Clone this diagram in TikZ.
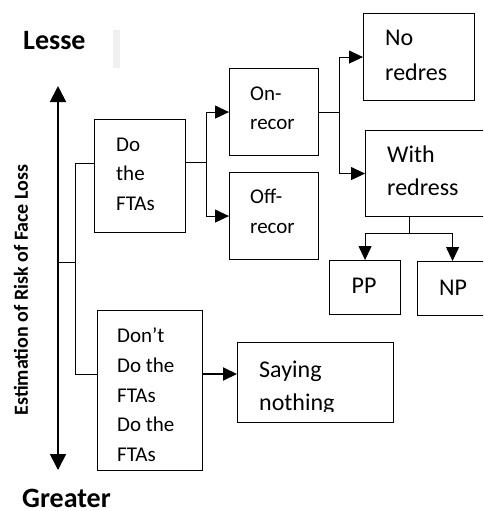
\documentclass[tikz,border=0pt]{standalone}
\usepackage{fontspec}
\setmainfont{Carlito}
\usetikzlibrary{arrows.meta}
\begin{document}
\begin{tikzpicture}[x=1pt,y=-1pt,
  box/.style={draw, line width=1.1pt, rectangle, anchor=north west, inner sep=0pt},
  txt/.style={anchor=base west, inner sep=0pt, font=\fontsize{21}{25}\selectfont},
  btxt/.style={anchor=base west, inner sep=0pt, font=\fontsize{24}{28}\selectfont},
  ctxt/.style={anchor=base, inner sep=0pt, font=\fontsize{24}{28}\selectfont},
  big/.style={anchor=base west, inner sep=0pt, font=\bfseries\fontsize{28}{30}\selectfont},
  conn/.style={draw, line width=1pt},
  arr/.style={conn, -{Triangle[length=14pt,width=13pt]}},
  thickarr/.style={draw, line width=2pt, -{Triangle[length=14pt,width=13pt]}},
  axis/.style={draw, line width=1.8pt, {Triangle[length=16pt,width=16pt]}-{Triangle[length=16pt,width=16pt]}}
]
\useasboundingbox (0,0) rectangle (483,511);
\clip (0,0) rectangle (483,511);
\fill[white] (0,0) rectangle (483,511);

% labels
\node[big] (lesse) at (23,50) {Lesse};
\fill[black!6] (113,30) rectangle (120,68);
\node[big] (greater) at (22,507) {Greater};
\node[rotate=90, inner sep=0pt, font=\bfseries\fontsize{20}{22}\selectfont] (lab) at (21,290) {Estimation of Risk of Face Loss};

% axis
\coordinate (atop) at (58,86);
\coordinate (abot) at (58,470);
\draw[axis] (atop) -- (abot);

% boxes
\node[box, minimum width=91pt, minimum height=113pt] (do) at (94,119) {};
\node[box, minimum width=89pt, minimum height=87pt] (on) at (229,68) {};
\node[box, minimum width=89pt, minimum height=87pt] (off) at (229,172) {};
\node[box, minimum width=111pt, minimum height=87pt] (nr) at (363,13) {};
\node[box, minimum width=125pt, minimum height=86pt] (wr) at (365,130) {};
\node[box, minimum width=71pt, minimum height=54pt] (pp) at (329,260) {};
\node[box, minimum width=70pt, minimum height=54pt] (np) at (417,261) {};
\node[box, minimum width=105pt, minimum height=160pt] (dont) at (97,310) {};
\node[box, minimum width=156pt, minimum height=80pt] (say) at (237,342) {};

% texts
\node[txt] (do1) at (116,151) {Do};
\node[txt] (do2) at (116,180) {the};
\node[txt] (do3) at (116,210) {FTAs};
\node[txt] (on1) at (250,100) {On-};
\node[txt] (on2) at (250,129) {recor};
\node[txt] (off1) at (250,203) {Off-};
\node[txt] (off2) at (250,233) {recor};
\node[btxt] (nr1) at (385,46) {No};
\node[btxt] (nr2) at (385,80) {redres};
\node[btxt] (wr1) at (387,162) {With};
\node[btxt] (wr2) at (387,195) {redress};
\node[ctxt] (pp1) at (364,293) {PP};
\node[ctxt] (np1) at (453,295) {NP};
\node[txt] (dt1) at (117,342) {Don’t};
\node[txt] (dt2) at (117,372) {Do the};
\node[txt] (dt3) at (117,402) {FTAs};
\node[txt] (dt4) at (117,431) {Do the};
\node[txt] (dt5) at (117,461) {FTAs};
\begin{scope}
\clip (237,342) rectangle (393,411);
\node[btxt] (sy1) at (259,377) {Saying};
\node[btxt] (sy2) at (259,410) {nothing};
\end{scope}

% connectors
\coordinate (am) at (58,262);
\coordinate (bm) at (75,262);
\coordinate (bt) at (75,163);
\coordinate (bb) at (75,374);
\draw[conn] (am) -- (bm);
\draw[conn] (do.west |- bt) -- (bt) -- (bb) -- (dont.west |- bb);

\coordinate (j1) at (206,162);
\draw[conn] (do.east |- j1) -- (j1);
\draw[arr] (j1) |- (on.west);
\draw[arr] (j1) |- (off.west);

\coordinate (j2) at (339,112);
\draw[conn] (on.east |- j2) -- (j2);
\draw[arr] (j2) |- (nr.west);
\draw[arr] (j2) |- (wr.west);

\coordinate (j3) at (409,233);
\draw[conn] (wr.south -| j3) -- (j3);
\draw[arr] (j3) -| (pp.north);
\draw[arr] (j3) -| (np.north);

\coordinate (j4) at (202,374);
\draw[thickarr] (dont.east |- j4) -- (say.west |- j4);
\end{tikzpicture}
\end{document}
